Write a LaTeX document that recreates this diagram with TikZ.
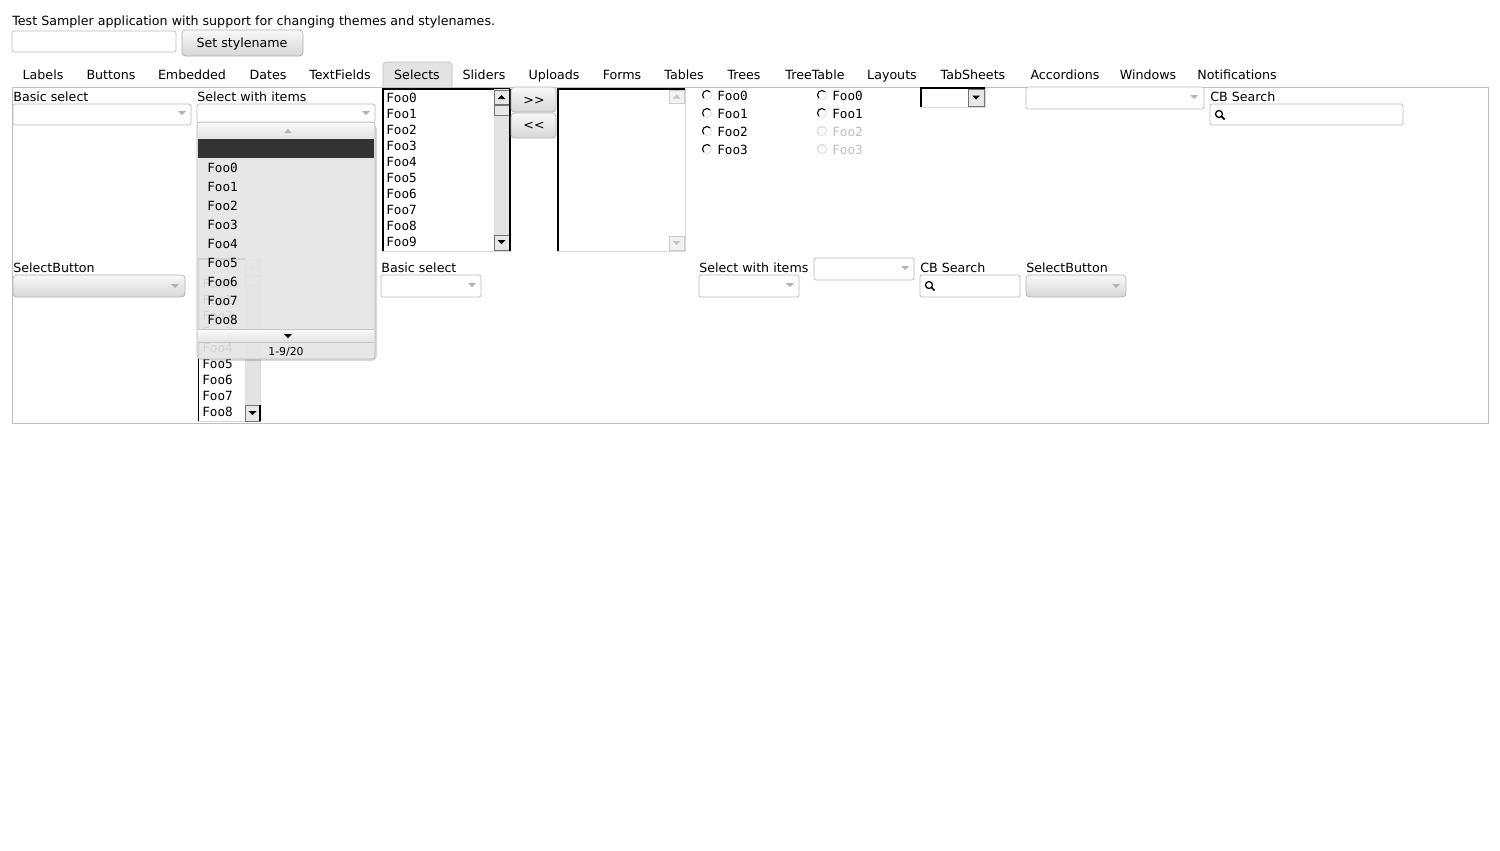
\documentclass[tikz,border=0pt]{standalone}
\usepackage{fontspec}
\setmainfont{DejaVu Sans}
\newfontfamily\foofont{DejaVu Sans Mono}
\usepackage{xcolor}
\usepackage{tikz}
\usetikzlibrary{positioning}

\newcommand\uitext{\fontsize{7.2}{8.5}\selectfont}
\newcommand\footext{\foofont\fontsize{7.2}{8}\selectfont}
\newcommand\dtri[3][gray!60]{\fill[#1] (#2-4,#3-2) -- (#2+4,#3-2) -- (#2,#3+2) -- cycle;}
\newcommand\utri[3][gray!60]{\fill[#1] (#2-4,#3+2) -- (#2+4,#3+2) -- (#2,#3-2) -- cycle;}
\newcommand\magn[2]{\draw[black, line width=0.7pt] (#1,#2) circle (3.5);
  \draw[black, line width=1pt] (#1+2.5,#2+2.5) -- (#1+5.5,#2+5.5);}
\newcommand\radio[3][black]{\draw[gray!30, fill=white] (#2,#3) circle (4.5);
  \draw[#1, line width=0.6pt] (#2,#3) ++(135:4.5) arc[start angle=135, end angle=315, radius=4.5];}

\begin{document}
\begin{tikzpicture}[x=0.02cm, y=-0.02cm,
    lbl/.style={anchor=mid west, inner sep=0pt, font=\uitext},
    tab/.style={anchor=mid, inner sep=0pt, font=\uitext},
    foo/.style={anchor=mid west, inner sep=0pt, font=\footext},
    field/.style={draw=gray!55, fill=white, rounded corners=1.2pt},
    gbutton/.style={draw=gray!60, top color=gray!5, bottom color=gray!32, rounded corners=2pt},
    listbox/.style={draw=gray!30, fill=white},
    inset/.style={black, line width=0.9pt},
    track/.style={fill=gray!22},
    arrowbtn/.style={draw=black!55, fill=gray!18}]

    \fill[white] (0,0) rectangle (1500,850);
    \useasboundingbox (0,0) rectangle (1500,850);

    % header
    \node[lbl] (title) at (12,21) {Test Sampler application with support for changing themes and stylenames.};
    \draw[field] (12,31) rectangle (176,52);
    \draw[gbutton] (182,30) rectangle (303,56);
    \node[tab] (setbtn) at (242,43) {Set stylename};

    % tabs
    \draw[gray!50, fill=gray!22, rounded corners=2pt] (383,87) -- (383,62) -- (452,62) -- (452,87);
    \foreach \x/\t in {43/Labels, 111/Buttons, 192/Embedded, 268/Dates, 340/TextFields,
        417/Selects, 484/Sliders, 554/Uploads, 622/Forms, 684/Tables, 744/Trees,
        815/TreeTable, 892/Layouts, 973/TabSheets, 1065/Accordions, 1148/Windows,
        1237/Notifications}
        \node[tab] at (\x,75) {\t};
    \draw[gray!50] (12,87) rectangle (1488,423);

    % first row
    \node[lbl] (basic) at (13,97) {Basic select};
    \draw[field] (13,104) rectangle (191,125); \dtri{182}{113}
    \node[lbl] (withitems) at (197,97) {Select with items};
    \draw[field] (197,104) rectangle (375,123); \dtri{366}{113}

    % twin column select
    \draw[listbox] (382,88) rectangle (510,251);
    \draw[inset] (383,251) -- (383,89) -- (510,89);
    \foreach \i in {0,...,9}
        \node[foo] (left\i) at (386,98+16*\i) {Foo\i};
    \fill[track] (494,89) rectangle (509,250);
    \draw[arrowbtn] (494,90) rectangle (509,104); \utri[black]{501.5}{97}
    \draw[arrowbtn] (494,105) rectangle (509,115);
    \draw[arrowbtn] (494,235) rectangle (509,250); \dtri[black]{501.5}{242}
    \draw[inset] (510,89) -- (510,251);
    \draw[gbutton] (511,87) rectangle (556,112);
    \node[tab] (addbtn) at (534,100) {>{}>};
    \draw[gbutton] (511,113) rectangle (556,138);
    \node[tab] (rembtn) at (534,125) {<{}<};
    \draw[listbox] (557,88) rectangle (685,251);
    \draw[inset] (558,251) -- (558,89) -- (685,89);
    \draw[gray!40, fill=gray!10] (669,90) rectangle (684,103); \utri[gray!45]{676.5}{96.5}
    \draw[gray!40, fill=gray!10] (669,236) rectangle (684,250); \dtri[gray!45]{676.5}{243}

    % option groups
    \foreach \i in {0,...,3} {
        \radio{707}{95+18*\i}
        \node[foo] (opta\i) at (717,96+18*\i) {Foo\i};
    }
    \foreach \i in {0,1} {
        \radio{822}{95+18*\i}
        \node[foo] (optb\i) at (832,96+18*\i) {Foo\i};
    }
    \foreach \i in {2,3} {
        \radio[gray!30]{822}{95+18*\i}
        \node[foo, text=gray!50] (optb\i) at (832,96+18*\i) {Foo\i};
    }

    % native select, plain select, combobox
    \draw[listbox] (920,87) rectangle (985,107);
    \draw[inset] (921,107) -- (921,88) -- (985,88);
    \draw[arrowbtn] (968,89) rectangle (984,106); \dtri[black]{976}{97.5}
    \draw[field] (1026,87) rectangle (1204,109); \dtri{1194}{97}
    \node[lbl] (cbsearch) at (1210,97) {CB Search};
    \draw[field] (1210,104) rectangle (1403,125); \magn{1219}{114}

    % second row
    \node[lbl] (selbtn) at (13,268) {SelectButton};
    \draw[gbutton] (13,275) rectangle (185,297); \dtri{175}{286}

    \draw[listbox] (198,259) rectangle (260,421);
    \draw[inset] (198.5,421) -- (198.5,259) -- (245,259);
    \foreach \i in {0,...,8}
        \node[foo] (lower\i) at (202,284+16*\i) {Foo\i};
    \fill[track] (245,259) rectangle (260,421);
    \draw[gray!45, fill=gray!10] (245,259) rectangle (260,275); \utri[gray!45]{252.5}{267}
    \draw[gray!45, fill=gray!10] (245,276) rectangle (260,284);
    \draw[arrowbtn] (245,405) rectangle (260,421); \dtri[black]{252.5}{413}
    \draw[inset] (260,405) -- (260,421);

    \node[lbl] (basicb) at (381,268) {Basic select};
    \draw[field] (381,275) rectangle (481,297); \dtri{472}{285}
    \node[lbl] (withitemsb) at (699,268) {Select with items};
    \draw[field] (699,275) rectangle (799,297); \dtri{790}{285}
    \draw[field] (814,258) rectangle (914,280); \dtri{905}{268}
    \node[lbl] (cbsearchb) at (920,268) {CB Search};
    \draw[field] (920,275) rectangle (1020,297); \magn{929}{285}
    \node[lbl] (selbtnb) at (1026,268) {SelectButton};
    \draw[gbutton] (1026,275) rectangle (1126,297); \dtri{1116}{286}

    % open popup
    \fill[black, opacity=0.15, rounded corners=3pt] (199,124) rectangle (377,361);
    \draw[gray!55, fill=gray!17, fill opacity=0.9, rounded corners=2pt] (197,122) rectangle (375,359);
    \fill[top color=gray!5, bottom color=gray!22] (198,123) rectangle (374,138);
    \utri{288}{131}
    \fill[black!80] (198,139) rectangle (374,158);
    \foreach \i in {0,...,8}
        \node[foo] (pop\i) at (207,168+19*\i) {Foo\i};
    \fill[top color=gray!5, bottom color=gray!22] (198,330) rectangle (374,342);
    \draw[gray!45] (198,329.5) -- (374,329.5) (198,342.5) -- (374,342.5);
    \dtri[black]{288}{336}
    \node[tab, font=\fontsize{6.2}{7}\selectfont] (pages) at (286,351) {1-9/20};
\end{tikzpicture}
\end{document}
